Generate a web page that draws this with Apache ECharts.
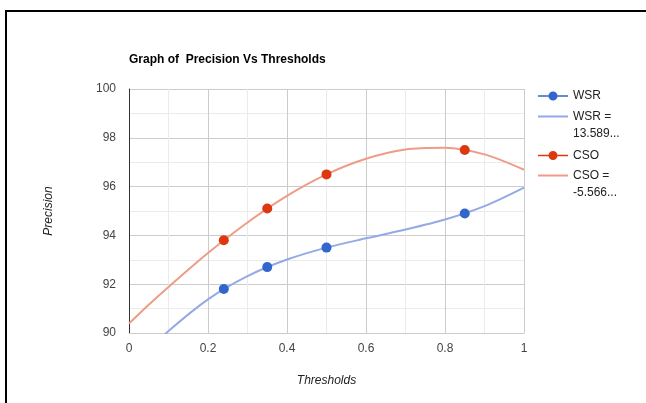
<!DOCTYPE html>
<html>
<head>
<meta charset="utf-8">
<script src="https://cdn.jsdelivr.net/npm/echarts@6/dist/echarts.min.js"></script>
<style>
  html, body { margin: 0; padding: 0; background: #fff; }
  #chart { width: 646px; height: 403px; }
</style>
</head>
<body>
<div id="chart"></div>
<script>
// measured points
const thresholds = [0.24, 0.35, 0.5, 0.85];
const wsrPrecision = [91.8, 92.7, 93.5, 94.9];
const csoPrecision = [93.8, 95.1, 96.5, 97.5];

// trendline curves
const trendX = [0, 0.05, 0.1, 0.2, 0.3, 0.4, 0.5, 0.6, 0.7, 0.8, 0.9, 1];
const wsrTrend = [88.35, 89.27, 90.08, 91.38, 92.33, 93.01, 93.5, 93.88, 94.24, 94.65, 95.2, 95.96];
const csoTrend = [90.39, 91.16, 91.89, 93.28, 94.53, 95.62, 96.5, 97.14, 97.52, 97.59, 97.32, 96.69];

const legendNames = ["WSR", "WSR =\n13.589...", "CSO", "CSO =\n-5.566..."];

const zip = (xs, ys) => xs.map((x, i) => [x, ys[i]]);

const chart = echarts.init(document.getElementById("chart"), null, { renderer: "canvas" });

const FONT = "Arial, Liberation Sans, sans-serif";
const labelStyle = { fontFamily: FONT, fontSize: 12, color: "#444" };
const legendText = { fontFamily: FONT, fontSize: 12, color: "#222", lineHeight: 17 };

// legend icons: line with a dot, and a plain line sitting on the first text row
const dotIcon = "path://M0 0h0.01v0.01H0z M0 9.99h0.01v0.01H0z M0 4.25h30v1.5H0z M19.5 5a4.5 4.5 0 1 1-9 0a4.5 4.5 0 1 1 9 0z";
const lineIcon = "path://M0 0h0.01v0.01H0z M0 33.99h0.01v0.01H0z M0 7.5h30v2H0z";

function legendAt(name, top, twoLines) {
  return {
    data: [{ name: name, icon: twoLines ? lineIcon : dotIcon }],
    left: 538,
    top: top,
    padding: 0,
    itemWidth: 30,
    itemHeight: twoLines ? 34 : 10,
    itemGap: 0,
    selectedMode: false,
    textStyle: legendText
  };
}

chart.setOption({
  animation: false,
  title: {
    text: "Graph of  Precision Vs Thresholds",
    left: 129,
    top: 54,
    padding: 0,
    textStyle: { fontFamily: FONT, fontSize: 12, fontWeight: "bold", color: "#000" }
  },
  legend: [
    legendAt(legendNames[0], 87.5, false),
    legendAt(legendNames[1], 108, true),
    legendAt(legendNames[2], 147, false),
    legendAt(legendNames[3], 167, true)
  ],
  grid: { left: 129, right: 122, top: 89, bottom: 70, containLabel: false },
  xAxis: {
    type: "value",
    min: 0,
    max: 1,
    interval: 0.2,
    name: "Thresholds",
    nameLocation: "middle",
    nameGap: 42,
    nameTextStyle: Object.assign({}, labelStyle, { fontStyle: "italic", color: "#222" }),
    axisLine: { show: true, onZero: false, lineStyle: { color: "#ccc" } },
    axisTick: { show: false },
    axisLabel: Object.assign({ margin: 10 }, labelStyle),
    splitLine: { lineStyle: { color: "#ccc" } },
    minorTick: { show: false, splitNumber: 2 },
    minorSplitLine: { show: true, lineStyle: { color: "#ebebeb" } }
  },
  yAxis: {
    type: "value",
    min: 90,
    max: 100,
    interval: 2,
    name: "Precision",
    nameLocation: "middle",
    nameGap: 74,
    nameTextStyle: Object.assign({}, labelStyle, { fontStyle: "italic", color: "#222" }),
    axisLine: { show: true, onZero: false, lineStyle: { color: "#333" } },
    axisTick: { show: false },
    axisLabel: Object.assign({ margin: 13 }, labelStyle),
    splitLine: { lineStyle: { color: "#ccc" } },
    minorTick: { show: false, splitNumber: 2 },
    minorSplitLine: { show: true, lineStyle: { color: "#ebebeb" } }
  },
  series: [
    {
      name: legendNames[0],
      type: "line",
      data: zip(thresholds, wsrPrecision),
      symbol: "circle",
      symbolSize: 10,
      lineStyle: { width: 0, opacity: 0 },
      itemStyle: { color: "#3366cc" },
      z: 5
    },
    {
      name: legendNames[1],
      type: "line",
      data: zip(trendX, wsrTrend),
      smooth: 0.3,
      symbol: "none",
      clip: true,
      lineStyle: { width: 2, color: "#94aae6" },
      itemStyle: { color: "#94aae6" },
      z: 3
    },
    {
      name: legendNames[2],
      type: "line",
      data: zip(thresholds, csoPrecision),
      symbol: "circle",
      symbolSize: 10,
      lineStyle: { width: 0, opacity: 0 },
      itemStyle: { color: "#dc3912" },
      z: 5
    },
    {
      name: legendNames[3],
      type: "line",
      data: zip(trendX, csoTrend),
      smooth: 0.3,
      symbol: "none",
      clip: true,
      lineStyle: { width: 2, color: "#ef9c87" },
      itemStyle: { color: "#ef9c87" },
      z: 3
    }
  ],
  graphic: [
    { type: "line", shape: { x1: 5, y1: 11, x2: 646, y2: 11 }, style: { stroke: "#000", lineWidth: 2 } },
    { type: "line", shape: { x1: 6, y1: 10, x2: 6, y2: 403 }, style: { stroke: "#000", lineWidth: 2 } }
  ]
});
</script>
</body>
</html>
